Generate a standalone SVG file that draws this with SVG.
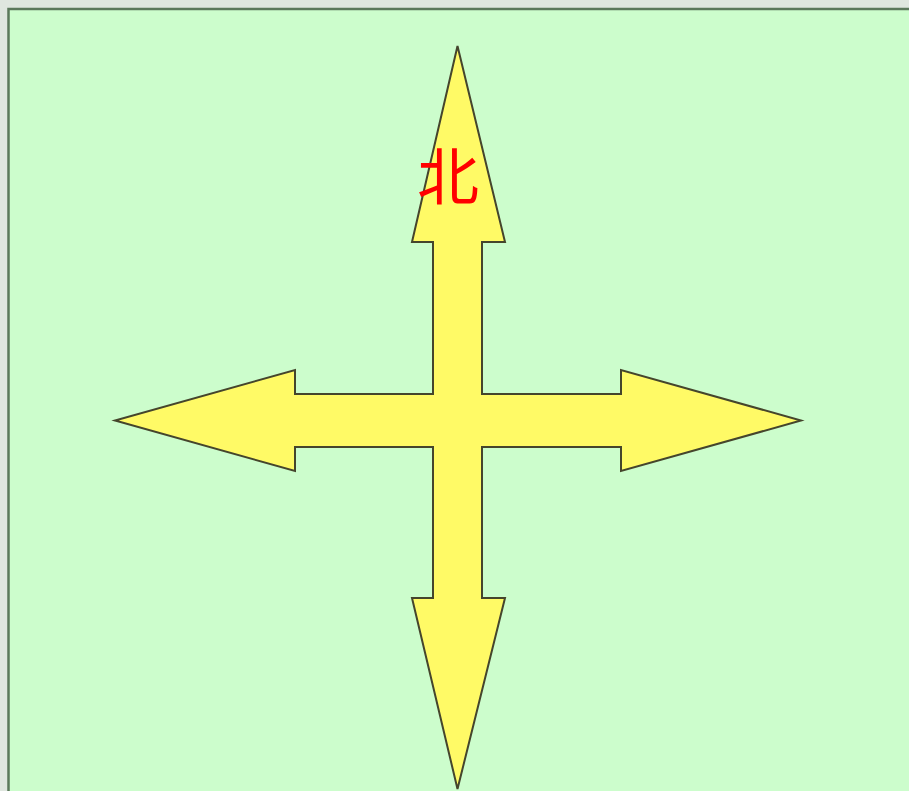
<svg xmlns="http://www.w3.org/2000/svg" width="909" height="791" viewBox="0 0 909 791">
  <style>
    .frame { fill: #dfe6df; }
    .panel { fill: #ccfdcc; stroke: #5b785b; stroke-width: 2.5; }
    .arrow { fill: #fffa66; stroke: #45452c; stroke-width: 2; stroke-linejoin: miter; }
    .label { font-family: "Noto Sans CJK SC", "Noto Sans CJK JP", sans-serif; font-size: 62px; fill: #ff0000; }
  </style>
  <rect class="frame" x="0" y="0" width="909" height="791"/>
  <rect class="panel" x="8.5" y="9" width="905" height="790"/>
  <g id="compass">
    <path class="arrow" d="M457.5,46 L505,242 L482,242 L482,394 L621,394 L621,370 L801,420.5 L621,471 L621,447 L482,447 L482,598 L505,598 L457.5,789 L412,598 L433,598 L433,447 L295,447 L295,471 L115,420.5 L295,370 L295,394 L433,394 L433,242 L412,242 Z"/>
  </g>
  <g id="north-label">
    <text class="label" x="448" y="200" text-anchor="middle">北</text>
  </g>
</svg>
